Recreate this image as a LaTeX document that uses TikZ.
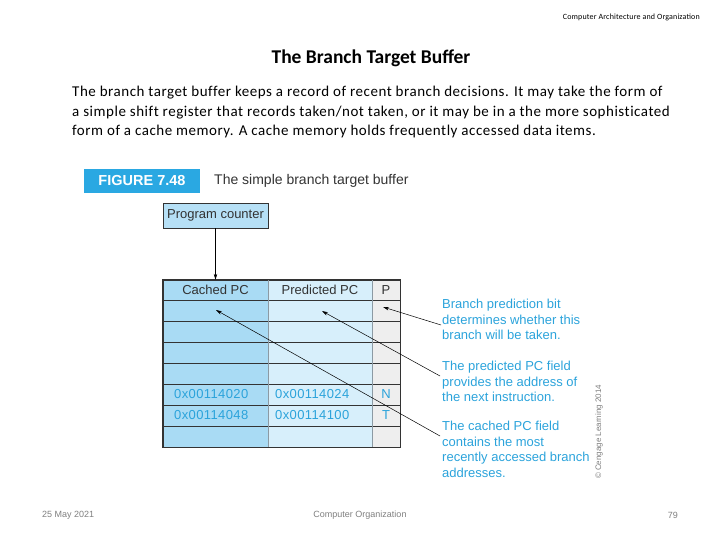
\documentclass[tikz,border=0pt]{standalone}
\usepackage{fontspec}
\setmainfont{Carlito}
\newfontfamily\arialf{Liberation Sans}
\usetikzlibrary{arrows.meta}
\definecolor{txtblue}{HTML}{2BA3DB}
\definecolor{figblue}{HTML}{2AA8E2}
\definecolor{colA}{HTML}{A9DBF4}
\definecolor{colB}{HTML}{D7EFFB}
\definecolor{colC}{HTML}{EEEEEE}
\definecolor{gridc}{HTML}{333333}
\definecolor{vsep}{HTML}{8C9AA3}
\definecolor{footc}{HTML}{7F7F7F}
\tikzset{
  cellA/.style={draw=gridc,fill=colA,minimum width=105pt,minimum height=21pt,inner sep=0pt,font=\arialf\fontsize{13}{15}\selectfont},
  cellB/.style={draw=gridc,fill=colB,minimum width=104pt,minimum height=21pt,inner sep=0pt,font=\arialf\fontsize{13}{15}\selectfont},
  cellC/.style={draw=gridc,fill=colC,minimum width=28pt,minimum height=21pt,inner sep=0pt,font=\arialf\fontsize{13}{15}\selectfont},
  hdr/.style={minimum height=20pt,text=gridc},
  hexv/.style={anchor=west,inner sep=0pt,text=txtblue,font=\arialf\fontsize{13}{15}\selectfont\addfontfeature{LetterSpace=3}},
  ann/.style={anchor=north west,align=left,text=txtblue,inner sep=0pt,font=\arialf\fontsize{13}{15.6}\selectfont},
  ptr/.style={-{Stealth[length=6pt,width=3.5pt]},line width=0.5pt,black},
  foot/.style={text=footc,font=\arialf\fontsize{9}{10}\selectfont,inner sep=0pt},
  body/.style={anchor=west,inner sep=0pt,font=\fontsize{15}{17}\selectfont\addfontfeature{LetterSpace=3.5,Ligatures=NoCommon}}
}
\begin{document}
\begin{tikzpicture}[x=1pt,y=-1pt]
\useasboundingbox (0,0) rectangle (720,540);
% header
\node[anchor=east,inner sep=0pt,font=\fontsize{8}{9}\selectfont\addfontfeature{LetterSpace=2}] (hd) at (700,17) {Computer Architecture and Organization};
\node[font=\bfseries\fontsize{19.5}{22}\selectfont] (title) at (371,58) {The Branch Target Buffer};
\node[body] (l1) at (72,93) {The branch target buffer keeps a record of recent branch decisions. It may take the form of};
\node[body] (l2) at (72,113) {a simple shift register that records taken/not taken, or it may be in a the more sophisticated};
\node[body] (l3) at (72,132) {form of a cache memory. A cache memory holds frequently accessed data items.};
% figure label
\node[fill=figblue,minimum width=116pt,minimum height=24pt,inner sep=0pt,text=white,font=\arialf\bfseries\fontsize{14.5}{16}\selectfont] (fig) at (142,181) {FIGURE 7.48};
\node[anchor=west,inner sep=0pt,text=gridc,font=\arialf\fontsize{14}{16}\selectfont] (cap) at (214,181) {The simple branch target buffer};
% program counter
\node[draw=gridc,fill=colA!85!white,minimum width=105pt,minimum height=25pt,inner sep=0pt,text=gridc,font=\arialf\fontsize{13}{15}\selectfont] (pc) at (215.5,215.5) {Program counter};
% table header
\node[cellA,hdr] (h1) at (215.5,290) {Cached PC};
\node[cellB,hdr] (h2) at (320,290) {Predicted PC};
\node[cellC,hdr] (h3) at (386,290) {P};
% rows
\foreach \i/\a/\b/\c in {1///,2///,3///,4///,5/0x00114020/0x00114024/N,6/0x00114048/0x00114100/T,7///}{
  \pgfmathsetmacro{\yy}{300+21*\i-10.5}
  \node[cellA] (a\i) at (215.5,\yy) {};
  \node[cellB] (b\i) at (320,\yy) {};
  \node[cellC,text=txtblue] (c\i) at (386,\yy) {\c};
  \node[hexv] (ta\i) at (174,\yy) {\a};
  \node[hexv] (tb\i) at (275,\yy) {\b};
}
\draw[vsep,line width=0.8pt] (h1.north east) -- (a7.south east);
\draw[vsep,line width=0.8pt] (h2.north east) -- (b7.south east);
\draw[gridc,line width=1pt] (h1.north west) rectangle (c7.south east);
% annotations
\node[ann] (n1) at (442,299) {Branch prediction bit\\determines whether this\\branch will be taken.};
\node[ann] (n2) at (442,361) {The predicted PC field\\provides the address of\\the next instruction.};
\node[ann] (n3) at (442,421) {The cached PC field\\contains the most\\recently accessed branch\\addresses.};
\coordinate (s1) at (441,325);
\coordinate (s2) at (440,376);
\coordinate (s3) at (440,436);
\coordinate (e1) at (383,307);
\coordinate (e2) at (322,311);
\coordinate (e3) at (216,310);
\draw[ptr] (pc.south) -- (h1.north);
\draw[ptr] (s1) -- (e1);
\draw[ptr] (s2) -- (e2);
\draw[ptr] (s3) -- (e3);
\node[rotate=90,text=footc,inner sep=0pt,font=\arialf\fontsize{8}{10}\selectfont] (cr) at (599,432) {\textcopyright{} Cengage Learning 2014};
% footer
\node[foot,anchor=west] (f1) at (42,515) {25 May 2021};
\node[foot] (f2) at (360,515) {Computer Organization};
\node[foot,anchor=east] (f3) at (678,515) {79};
\end{tikzpicture}
\end{document}
